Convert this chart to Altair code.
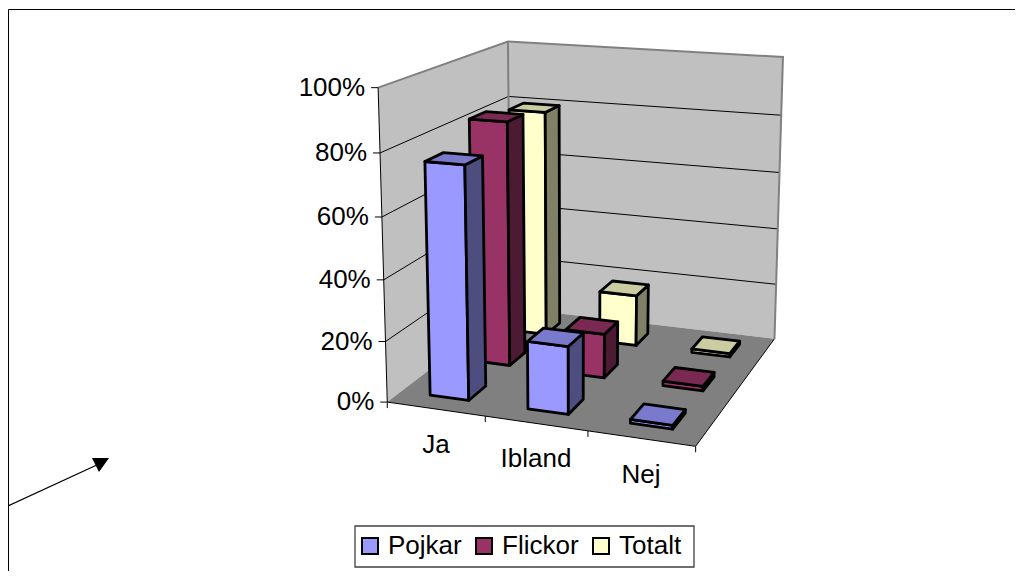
import numpy as np
import altair as alt

categories = ["Ja", "Ibland", "Nej"]
series = ["Pojkar", "Flickor", "Totalt"]
pojkar = [0.76, 0.22, 0.012]
flickor = [0.83, 0.15, 0.015]
totalt = [0.80, 0.18, 0.012]
values = [pojkar, flickor, totalt]
y_ticks = [0.0, 0.2, 0.4, 0.6, 0.8, 1.0]
y_labels = ["0%", "20%", "40%", "60%", "80%", "100%"]
front_colors = ["#9999FF", "#993366", "#FFFFCC"]
side_colors = ["#4D4D80", "#4D1A33", "#808066"]
top_colors = ["#7A7ACC", "#7A2952", "#CCCCA3"]

OX, OY = 8, 8  # page margin

# 3D box (u along categories, v along depth, h along value) to screen: fit a camera
anchors = [
    ((0, 0, 0), (388, 403)), ((1, 0, 0), (695, 446)), ((1, 1, 0), (775, 339)),
    ((0, 1, 0), (510, 307)), ((0, 0, 1), (378, 87)), ((0, 1, 1), (508, 42)),
    ((1, 1, 1), (783, 57)),
]
rows = []
for (u, v, h), (px, py) in anchors:
    X = [u, v, h, 1]
    rows.append(X + [0, 0, 0, 0] + [-px * c for c in X])
    rows.append([0, 0, 0, 0] + X + [-py * c for c in X])
P = np.linalg.svd(np.array(rows, float))[2][-1].reshape(3, 4)


def proj(u, v, h):
    a = P @ np.array([u, v, h, 1.0])
    return [float(a[0] / a[2]) - OX, float(a[1] / a[2]) - OY]


def scr(x, y):
    return [x - OX, y - OY]


def poly(points, **props):
    ring = list(points) + [points[0]]
    return {"type": "Feature", "geometry": {"type": "Polygon", "coordinates": [ring]}, "properties": props}


def line(points, **props):
    return {"type": "Feature", "geometry": {"type": "LineString", "coordinates": list(points)}, "properties": props}


def shape(features, **kw):
    return alt.Chart(alt.Data(values=features)).mark_geoshape(**kw).project(
        type="identity", scale=1, translate=[0, 0])


def labels(rows_, align):
    return alt.Chart(alt.Data(values=rows_)).mark_text(
        align=align, baseline="middle", font="Liberation Sans", fontSize=26, color="#000000").encode(
        longitude="lon:Q", latitude="lat:Q", text="t:N").project(
        type="identity", scale=1, translate=[0, 0])


# walls and floor
left_wall = poly([proj(0, 0, 0), proj(0, 1, 0), proj(0, 1, 1), proj(0, 0, 1)])
back_wall = poly([proj(0, 1, 0), proj(1, 1, 0), proj(1, 1, 1), proj(0, 1, 1)])
floor = poly([proj(0, 0, 0), proj(1, 0, 0), proj(1, 1, 0), proj(0, 1, 0)])

walls = shape([left_wall, back_wall], fill="#C0C0C0", strokeWidth=0)
floor_l = shape([floor], fill="#808080", strokeWidth=0)

grid = []
for t in y_ticks[1:-1]:
    grid.append(line([proj(0, 0, t), proj(0, 1, t), proj(1, 1, t)]))
grid_l = shape(grid, filled=False, stroke="#000000", strokeWidth=1)

rim = shape([line([proj(0, 0, 1), proj(0, 1, 1), proj(1, 1, 1), proj(1, 1, 0)]),
             line([proj(0, 1, 1), proj(0, 1, 0)])],
            filled=False, stroke="#808080", strokeWidth=2)

ticks = [line([proj(0, 0, 0), proj(0, 0, 1)]), line([proj(0, 0, 0), proj(1, 0, 0), proj(1, 1, 0)])]
for t in y_ticks:
    p = proj(0, 0, t)
    ticks.append(line([[p[0] - 7, p[1]], p]))
for i in range(4):
    p = proj(i / 3, 0, 0)
    ticks.append(line([p, [p[0], p[1] + 6]]))
axes_l = shape(ticks, filled=False, stroke="#000000", strokeWidth=1)

# bars, painted from the back row forwards
faces = []
for j in [2, 1, 0]:
    for i in range(3):
        h = values[j][i]
        u0, u1 = (i + 0.3) / 3, (i + 0.7) / 3
        v0, v1 = (j + 0.3) / 3, (j + 0.7) / 3
        faces.append(poly([proj(u0, v0, 0), proj(u1, v0, 0), proj(u1, v0, h), proj(u0, v0, h)], key=series[j]))
        faces.append(poly([proj(u1, v0, 0), proj(u1, v1, 0), proj(u1, v1, h), proj(u1, v0, h)], key=series[j] + " side"))
        faces.append(poly([proj(u0, v0, h), proj(u1, v0, h), proj(u1, v1, h), proj(u0, v1, h)], key=series[j] + " top"))

domain = series + [s + " side" for s in series] + [s + " top" for s in series]
colors = front_colors + side_colors + top_colors
bars = shape(faces, stroke="#000000", strokeWidth=2.8, strokeJoin="round").encode(
    color=alt.Color("properties.key:N", scale=alt.Scale(domain=domain, range=colors),
                    legend=alt.Legend(values=series, title=None, orient="none", direction="horizontal",
                                      legendX=342, legendY=518, columns=3, symbolType="square",
                                      symbolSize=256, symbolStrokeColor="#000000", symbolStrokeWidth=2,
                                      labelFont="Liberation Sans", labelFontSize=26, labelColor="#000000",
                                      columnPadding=9, padding=7,
                                      labelLimit=200, symbolOpacity=1, labelOffset=5)))

# text
ytext = [{"lon": proj(0, 0, t)[0] - 13, "lat": proj(0, 0, t)[1], "t": s} for t, s in zip(y_ticks, y_labels)]
ylab = labels(ytext, "right")
cat_pos = [(436, 445), (536, 459), (641, 475)]
ctext = [{"lon": x - OX, "lat": y - OY, "t": c} for (x, y), c in zip(cat_pos, categories)]
clab = labels(ctext, "center")

# frame, legend box and the arrow
frame = shape([line([scr(8.5, 571), scr(8.5, 9.5), scr(1015, 9.5)])], filled=False, stroke="#000000", strokeWidth=1)
legend_box = shape([poly([scr(355, 526), scr(694, 526), scr(694, 567), scr(355, 567)])],
                   fill="#FFFFFF", stroke="#404040", strokeWidth=1.3)
arrow_shaft = shape([line([scr(8, 506), scr(99, 464)])], filled=False, stroke="#000000", strokeWidth=1.3)
arrow_head = shape([poly([scr(92, 458), scr(109, 458), scr(99, 472)])], fill="#000000", strokeWidth=0)

chart = alt.layer(frame, arrow_shaft, arrow_head, walls, floor_l, grid_l, rim, axes_l, legend_box, bars, ylab, clab).properties(
    width=1007, height=563, padding=0, autosize=alt.AutoSizeParams(type="none")
).configure_view(stroke=None).configure(background="#FFFFFF")

chart.save("out.html", embed_options={"renderer": "svg", "actions": False})
